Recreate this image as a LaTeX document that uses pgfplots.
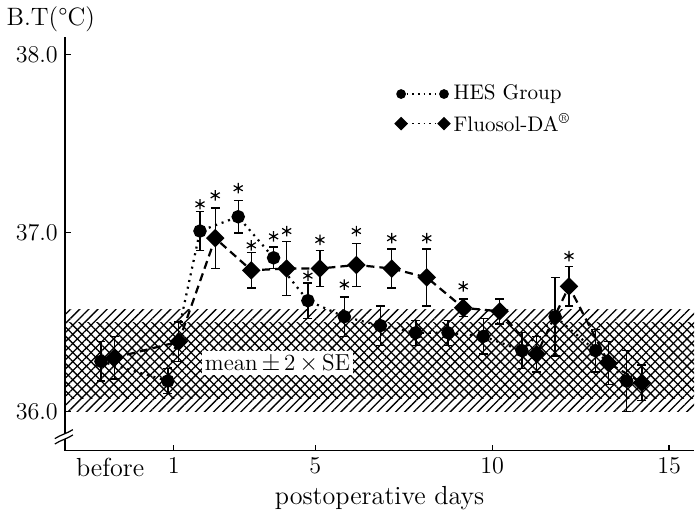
\documentclass[border=0pt]{standalone}
\usepackage{pgfplots}
\pgfplotsset{compat=1.18}
\usetikzlibrary{patterns.meta}

\begin{document}
\begin{tikzpicture}
\begin{axis}[
    scale only axis,
    width=313pt,
    height=205.5pt,
    xmin=-2.08, xmax=15.71,
    ymin=35.78, ymax=38.095,
    clip=false,
    axis x line*=bottom,
    axis y line*=left,
    axis line style={line width=0.8pt},
    tick align=inside,
    major tick length=3pt,
    tick style={line width=0.6pt, black},
    xtick={1,5,10,15},
    extra x ticks={-0.8},
    extra x tick labels={before},
    extra x tick style={major tick length=0pt},
    ytick={36,37,38},
    yticklabel style={/pgf/number format/.cd, fixed, fixed zerofill, precision=1},
    tick label style={font=\fontsize{13}{15}\selectfont},
    xlabel={postoperative days},
    xlabel style={font=\fontsize{13}{15}\selectfont, yshift=2pt},
    legend style={
        at={(0.515,0.905)},
        anchor=north west,
        draw=none,
        fill=none,
        font=\fontsize{10.5}{12}\selectfont,
        row sep=1pt
    },
    legend cell align=left,
    legend image code/.code={
        \draw[#1, mark size=2pt, dash pattern=on 0.8pt off 2pt, line width=0.8pt]
            plot coordinates {(0cm,0cm) (0.75cm,0cm)};
    },
]

% mean +- 2 SE bands
\addplot[draw=none, forget plot,
    pattern={Lines[angle=45,distance=3.2pt,line width=0.65pt]}]
    coordinates {(-2.08,36.0) (15.71,36.0) (15.71,36.57) (-2.08,36.57)} -- cycle;
\addplot[draw=none, forget plot,
    pattern={Lines[angle=-45,distance=3.2pt,line width=0.65pt]}]
    coordinates {(-2.08,36.07) (15.71,36.07) (15.71,36.50) (-2.08,36.50)} -- cycle;

\node[fill=white, inner sep=1.5pt, font=\fontsize{11.5}{13}\selectfont]
    at (axis cs:3.93,36.27) {mean\,$\pm$\,2\,$\times$\,SE};

% HES group
\addplot[black, line width=1.1pt, dash pattern=on 1pt off 2.4pt,
    mark=*, mark size=2.8pt, mark options={solid},
    error bars/.cd, y dir=both, y explicit,
    error bar style={solid, line width=0.7pt},
    error mark options={rotate=90, solid, mark size=2.2pt, line width=0.7pt}]
coordinates {
    (-1.06,36.28) +- (0,0.11)
    (0.83,36.17) +- (0,0.07)
    (1.74,37.01) +- (0,0.11)
    (2.82,37.09) +- (0,0.09)
    (3.82,36.86) +- (0,0.06)
    (4.79,36.62) +- (0,0.10)
    (5.82,36.53) +- (0,0.11)
    (6.84,36.48) +- (0,0.11)
    (7.84,36.44) +- (0,0.07)
    (8.75,36.44) +- (0,0.07)
    (9.75,36.42) +- (0,0.10)
    (10.84,36.34) +- (0,0.10)
    (11.78,36.53) +- (0,0.22)
    (12.92,36.34) +- (0,0.12)
    (13.80,36.17) +- (0,0.17)
};
\addlegendentry{HES Group}

% Fluosol-DA
\addplot[black, line width=1.1pt, dash pattern=on 4pt off 2.5pt,
    mark=square*, mark size=2.7pt, mark options={solid, rotate=45},
    error bars/.cd, y dir=both, y explicit,
    error bar style={solid, line width=0.7pt},
    error mark options={rotate=90, solid, mark size=2.2pt, line width=0.7pt}]
coordinates {
    (-0.68,36.30) +- (0,0.12)
    (1.14,36.39) +- (0,0.11)
    (2.17,36.97) +- (0,0.17)
    (3.19,36.79) +- (0,0.10)
    (4.19,36.80) +- (0,0.15)
    (5.13,36.80) +- (0,0.10)
    (6.16,36.82) +- (0,0.12)
    (7.16,36.80) +- (0,0.11)
    (8.15,36.75) +- (0,0.16)
    (9.18,36.58) +- (0,0.05)
    (10.21,36.56) +- (0,0.07)
    (11.26,36.32) +- (0,0.10)
    (12.17,36.70) +- (0,0.11)
    (13.29,36.27) +- (0,0.12)
    (14.23,36.16) +- (0,0.10)
};
\addlegendentry{Fluosol-DA\textsuperscript{\textregistered}}

% significance marks
\addplot[only marks, mark=asterisk, mark size=2.6pt, line width=0.6pt, forget plot]
coordinates {
    (1.74,37.16) (2.17,37.21) (2.82,37.25) (3.19,36.93) (3.82,36.98)
    (4.19,37.01) (4.79,36.76) (5.13,36.96) (5.82,36.71) (6.16,37.01)
    (7.16,36.97) (8.15,36.97) (9.18,36.70) (12.17,36.87)
};

% axis break
\fill[white] ([xshift=-2pt]axis cs:-2.08,35.845) rectangle ([xshift=2pt]axis cs:-2.08,35.875);
\draw[line width=0.6pt] ([xshift=-5pt,yshift=-2.5pt]axis cs:-2.08,35.845)
    .. controls +(3pt,2pt) and +(-3pt,-2pt) .. ([xshift=4pt,yshift=2pt]axis cs:-2.08,35.845);
\draw[line width=0.6pt] ([xshift=-5pt,yshift=-2.5pt]axis cs:-2.08,35.875)
    .. controls +(3pt,2pt) and +(-3pt,-2pt) .. ([xshift=4pt,yshift=2pt]axis cs:-2.08,35.875);

\node[font=\fontsize{12.5}{14}\selectfont] at ([xshift=-7pt,yshift=9pt]rel axis cs:0,1)
    {B.T(\textdegree C)};
\end{axis}
\end{tikzpicture}
\end{document}
